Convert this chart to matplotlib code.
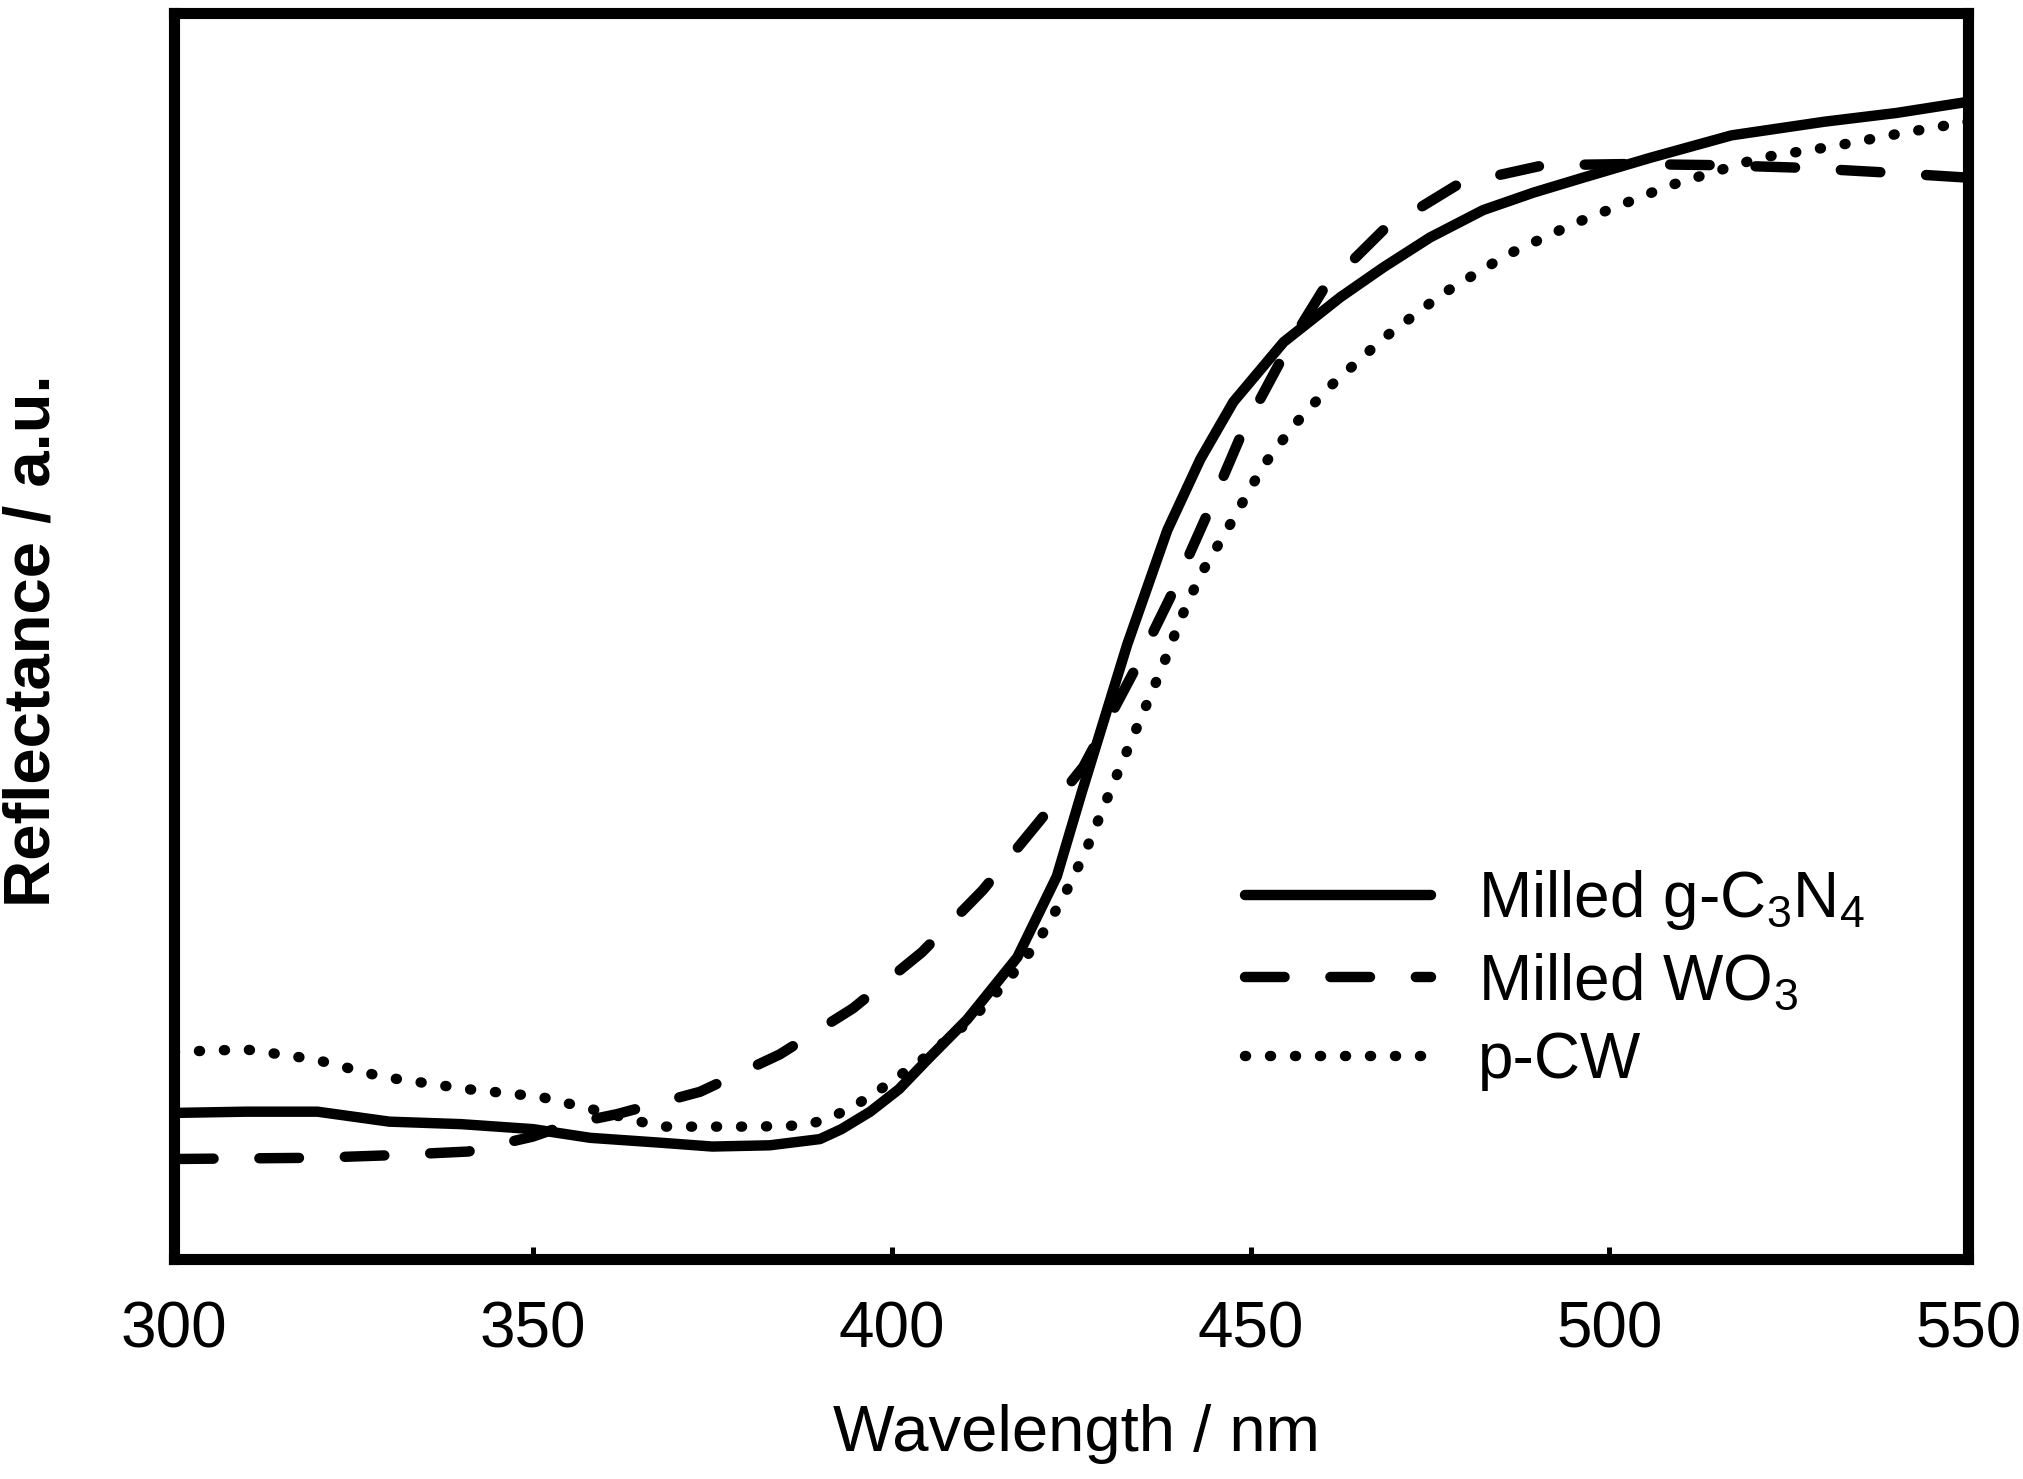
import matplotlib
matplotlib.use('Agg')
import matplotlib.pyplot as plt

# (y in arbitrary units, 0-100 over the axes height)
wl_cn = [300, 310, 320, 330, 340, 350, 358, 368, 375, 383, 390, 393, 397, 401, 405,
         410.5, 417.5, 423, 426.5, 432.8, 438.4, 443, 447.6, 454.6, 462.5, 468.5,
         475, 482.4, 489.4, 496.3, 505.7, 517, 530, 540, 550]
r_cn = [11.7, 11.8, 11.8, 11.0, 10.8, 10.4, 9.7, 9.3, 9.0, 9.1, 9.6, 10.4, 11.8, 13.6, 16.0,
        19.2, 24.2, 30.7, 37.5, 49.3, 58.5, 64.2, 68.8, 73.6, 77.2, 79.6,
        82.0, 84.2, 85.6, 86.8, 88.4, 90.2, 91.3, 92.0, 92.9]

wl_wo = [300, 320, 330, 341, 350, 355, 361.7, 373.3, 384.4, 394.6, 404.2, 412.7, 420.4,
         426.7, 433.6, 438.8, 443.9, 448.8, 455.5, 460.1, 468.5, 479, 490.8, 503,
         515.5, 526.6, 539, 550]
r_wo = [8.0, 8.1, 8.3, 8.6, 9.8, 10.8, 11.6, 13.4, 16.4, 20.1, 24.6, 29.6, 35.0,
        39.5, 47.0, 53.1, 59.7, 66.3, 73.5, 77.8, 82.6, 86.3, 87.8, 87.9,
        87.8, 87.6, 87.2, 86.8]

wl_cw = [300, 310, 319.6, 329, 341, 351, 357.5, 367.7, 381, 388, 391.4, 394.6, 397.7,
         405, 411.3, 416.1, 420.3, 423.9, 427, 430.9, 435, 437.7, 440.2, 443, 446.7,
         451.8, 456, 460.8, 468.5, 476.8, 485.7, 495, 504.6, 508, 521, 531, 540, 550]
r_cw = [16.6, 16.8, 16.0, 14.6, 13.6, 13.0, 12.1, 10.6, 10.6, 10.7, 11.3, 12.2, 13.3,
        16.3, 19.3, 22.3, 25.4, 29.0, 32.7, 38.2, 43.8, 47.5, 51.3, 54.9, 58.5,
        63.7, 66.9, 69.9, 73.9, 77.5, 80.6, 83.1, 85.3, 86.1, 88.4, 89.3, 90.3, 91.3]

labels = ['Milled g-C$_\\mathregular{3}$N$_\\mathregular{4}$',
          'Milled WO$_\\mathregular{3}$',
          'p-CW']
xticks = [300, 350, 400, 450, 500, 550]

plt.rcParams['font.family'] = ['Liberation Sans', 'DejaVu Sans']

fig = plt.figure(figsize=(20.23, 14.79), dpi=100)
ax = fig.add_axes([0.086, 0.149, 0.887, 0.842])

lw = 7.5
ax.plot(wl_cn, r_cn, color='black', lw=lw, solid_capstyle='round',
        solid_joinstyle='round', label=labels[0])
ax.plot(wl_wo, r_wo, color='black', lw=lw, linestyle=(0, (3.8, 4.4)),
        dash_capstyle='round', label=labels[1])
ax.plot(wl_cw, r_cw, color='black', lw=lw, linestyle=(0, (0.1, 2.3)),
        dash_capstyle='round', label=labels[2])

ax.set_xlim(300, 550)
ax.set_ylim(0, 100)
ax.set_xticks(xticks)
ax.set_yticks([])
ax.tick_params(axis='x', direction='in', length=9, width=3.6, pad=30, labelsize=46)

for s in ax.spines.values():
    s.set_linewidth(8)

ax.set_xlabel('Wavelength / nm', fontsize=47)
ax.xaxis.set_label_coords(0.503, -0.117)
ax.set_ylabel('Reflectance / a.u.', fontsize=47, fontweight='bold')
ax.yaxis.set_label_coords(-0.062, 0.496)

leg = ax.legend(loc='center left', bbox_to_anchor=(0.597, 0.224), frameon=False,
                fontsize=46, handlelength=2.9, handletextpad=0.75, labelspacing=0.3,
                borderpad=0, borderaxespad=0)
for h in leg.get_lines():
    h.set_linewidth(lw)

fig.savefig('out.png', dpi=100)
